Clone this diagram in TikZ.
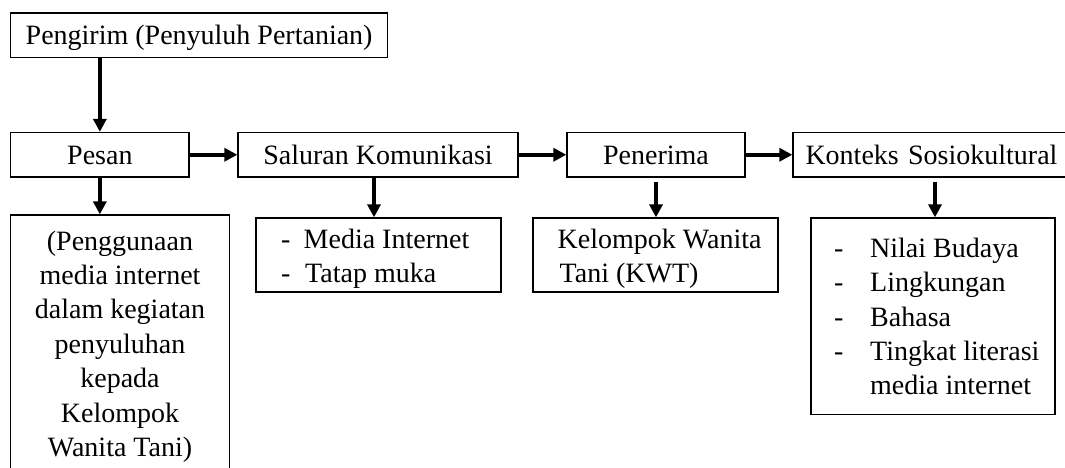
\documentclass[tikz,border=0pt]{standalone}
\usepackage{fontspec}
\setmainfont{Liberation Serif}
\usetikzlibrary{arrows.meta}
\begin{document}
\begin{tikzpicture}[x=1pt,y=-1pt,
  box/.style={draw=black, line width=1.3pt, inner sep=0pt,
    font=\fontsize{28}{34.4}\selectfont, text height=19pt, text depth=0pt},
  ln/.style={inner sep=0pt, anchor=base, font=\fontsize{28}{34.4}\selectfont},
  lnw/.style={ln, anchor=base west},
  arr/.style={line width=4pt, -{Triangle[length=13pt,width=13pt]}}]
\useasboundingbox (0,0) rectangle (1065,468);

% top row
\node[box, minimum width=376.8pt, minimum height=44.3pt] (pengirim) at (199.1,35.15) {Pengirim (Penyuluh Pertanian)};
\node[box, minimum width=178.3pt, minimum height=44.5pt] (pesan) at (99.85,154.75) {Pesan};
\node[box, minimum width=280pt, minimum height=44.5pt] (saluran) at (378,154.75) {Saluran Komunikasi};
\node[box, minimum width=178pt, minimum height=44.5pt] (penerima) at (656,154.75) {Penerima};
\node[box, minimum width=276pt, minimum height=44.5pt, text width=276pt, align=left] (konteks) at (931,154.75) {\hspace*{12.5pt}Konteks Sosiokultural};

% child boxes
\node[box, minimum width=219pt, minimum height=275pt] (pchild) at (120,352.5) {};
\node[box, minimum width=245pt, minimum height=74pt] (schild) at (378.5,255) {};
\node[box, minimum width=245pt, minimum height=74pt] (rchild) at (655.5,255) {};
\node[box, minimum width=244pt, minimum height=196.5pt] (kchild) at (933,316.25) {};

% Pesan child text
\node[ln] (p1) at (120,250) {(Penggunaan};
\node[ln] (p2) at (120,284.4) {media internet};
\node[ln] (p3) at (120,318.8) {dalam kegiatan};
\node[ln] (p4) at (120,353.2) {penyuluhan};
\node[ln] (p5) at (120,387.6) {kepada};
\node[ln] (p6) at (120,422) {Kelompok};
\node[ln] (p7) at (120,456.4) {Wanita Tani)};

% Saluran child text
\node[lnw] (s1d) at (281,248) {-};
\node[lnw] (s1) at (303.5,248) {Media Internet};
\node[lnw] (s2d) at (281,282) {-};
\node[lnw] (s2) at (305,282) {Tatap muka};

% Penerima child text
\node[lnw] (r1) at (557.5,248) {Kelompok Wanita};
\node[lnw] (r2) at (559.5,282) {Tani (KWT)};

% Konteks child text
\node[lnw] (k1d) at (834,257.5) {-};
\node[lnw] (k1) at (870,257.5) {Nilai Budaya};
\node[lnw] (k2d) at (834,291.8) {-};
\node[lnw] (k2) at (870,291.8) {Lingkungan};
\node[lnw] (k3d) at (834,326.1) {-};
\node[lnw] (k3) at (870,326.1) {Bahasa};
\node[lnw] (k4d) at (834,360.4) {-};
\node[lnw] (k4) at (870,360.4) {Tingkat literasi};
\node[lnw] (k5) at (870,394.7) {media internet};

% connectors
\draw[arr] (pengirim.south -| pesan) -- (pesan.north);
\draw[arr] (pesan.east) -- (saluran.west);
\draw[arr] (saluran.east) -- (penerima.west);
\draw[arr] (penerima.east) -- (konteks.west);
\draw[arr] (pesan.south) -- (pesan.south |- pchild.north);
\draw[arr] ([xshift=-4pt]saluran.south) -- ([xshift=-4pt]saluran.south |- schild.north);
\draw[arr] ([yshift=-4pt]penerima.south) -- (penerima.south |- rchild.north);
\draw[arr] ([xshift=4pt,yshift=-4pt]konteks.south) -- ([xshift=4pt]konteks.south |- kchild.north);
\end{tikzpicture}
\end{document}
